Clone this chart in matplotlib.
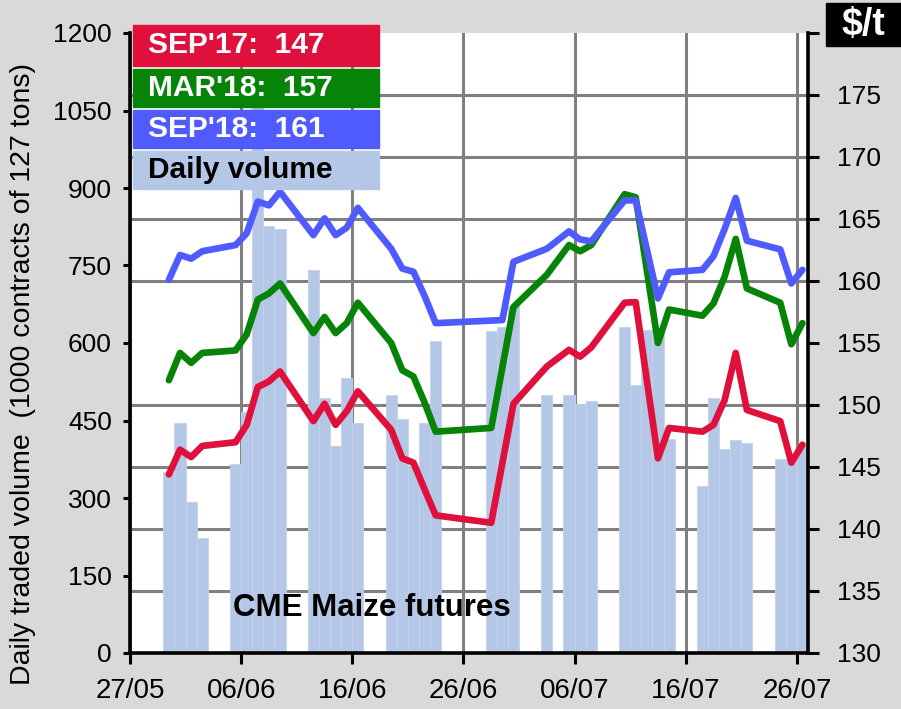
import numpy as np
import pandas as pd
import matplotlib
matplotlib.use("Agg")
import matplotlib.pyplot as plt
import matplotlib.dates as mdates
from matplotlib.patches import Rectangle

# ---------------------------------------------------------------
# data (CME maize futures, summer 2017)
# ---------------------------------------------------------------
dates = ['2017-05-30', '2017-05-31', '2017-06-01', '2017-06-02',
         '2017-06-05', '2017-06-06', '2017-06-07', '2017-06-08', '2017-06-09',
         '2017-06-12', '2017-06-13', '2017-06-14', '2017-06-15', '2017-06-16',
         '2017-06-19', '2017-06-20', '2017-06-21', '2017-06-22', '2017-06-23',
         '2017-06-28', '2017-06-29', '2017-06-30',
         '2017-07-03', '2017-07-05', '2017-07-06', '2017-07-07',
         '2017-07-10', '2017-07-11', '2017-07-12', '2017-07-13', '2017-07-14',
         '2017-07-17', '2017-07-18', '2017-07-19', '2017-07-20', '2017-07-21',
         '2017-07-24', '2017-07-25', '2017-07-26']

# daily traded volume (1000 contracts)
volume = [350, 445, 293, 222,
          365, 467, 1057, 826, 820,
          741, 493, 401, 532, 446,
          499, 453, 362, 446, 604,
          624, 631, 672,
          499, 499, 482, 488,
          630, 519, 625, 628, 414,
          323, 493, 395, 412, 407,
          375, 375, 400]

# settlement prices ($/t), None = no point on the line
sep17 = [144.4, 146.4, 145.8, 146.7,
         147.0, 148.4, 151.45, 151.9, 152.7,
         148.7, 150.1, 148.4, 149.5, 151.1,
         148.0, 145.7, 145.35, 143.2, 141.1,
         140.5, None, 150.1,
         153.1, 154.45, 153.9, 154.65,
         158.25, 158.3, None, 145.7, 148.15,
         147.85, 148.4, 150.4, 154.2, 149.6,
         148.7, 145.35, 146.8]

mar18 = [152.0, 154.2, 153.4, 154.2,
         154.4, 155.7, 158.5, 159.0, 159.8,
         155.8, 157.1, 155.8, 156.6, 158.25,
         155.0, 152.8, 152.3, 150.2, 147.85,
         148.15, None, 157.9,
         160.5, 162.9, 162.4, 162.9,
         167.0, 166.75, None, 155.0, 157.7,
         157.2, 158.2, 160.35, 163.4, 159.4,
         158.25, 154.9, 156.6]

sep18 = [160.1, 162.1, 161.8, 162.4,
         162.9, 163.85, 166.4, 166.1, 167.2,
         163.7, 165.05, 163.7, 164.3, 165.9,
         162.6, 161.0, 160.75, 158.8, 156.6,
         None, 156.85, 161.55,
         162.6, 164.0, 163.35, 163.2,
         166.5, 166.5, None, 158.6, 160.7,
         160.9, 162.0, 164.2, 166.7, 163.25,
         162.55, 159.8, 160.9]

series_names = ["SEP'17", "MAR'18", "SEP'18"]
series_values = [sep17, mar18, sep18]
series_colors = ['#e0103c', '#078407', '#4f5bff']
bar_color = '#b4c7e7'

vol_ticks = np.arange(0, 1201, 150)
price_ticks = np.arange(130, 181, 5)
date_ticks = pd.date_range('2017-05-27', periods=7, freq='10D')

# ---------------------------------------------------------------
# figure
# ---------------------------------------------------------------
W, H = 901, 709
plt.rcParams['font.family'] = ['Liberation Sans', 'DejaVu Sans']
fig = plt.figure(figsize=(W / 100, H / 100), dpi=100, facecolor='#d9d9d9')
ax = fig.add_axes([130 / W, 1 - 653 / H, (808 - 130) / W, (653 - 33) / H])
ax.set_facecolor('white')

x = pd.to_datetime(dates) + pd.Timedelta(hours=12)   # centre of each day slot

ax.bar(x, volume, width=1.0, color=bar_color, edgecolor='#c4d3ec',
       linewidth=0.6, zorder=2)
ax.set_ylim(0, 1200)
ax.set_yticks(vol_ticks)
ax.set_yticks(np.linspace(0, 1200, len(price_ticks)), minor=True)
ax.grid(which='minor', axis='y', color='#808080', lw=2.2)
ax.grid(which='major', axis='x', color='#808080', lw=2.2)
ax.set_axisbelow(True)

ax.set_xlim(pd.Timestamp('2017-05-27'), pd.Timestamp('2017-07-27'))
ax.set_xticks(date_ticks)
ax.xaxis.set_major_formatter(mdates.DateFormatter('%d/%m'))

ax.tick_params(axis='y', which='minor', length=0)
ax.tick_params(axis='y', which='major', length=5, width=2.2, labelsize=19, pad=8)
ax.tick_params(axis='x', length=8, width=2.2, labelsize=20, pad=10)

ax2 = ax.twinx()
for vals, col in zip(series_values, series_colors):
    s = pd.Series(vals, index=x, dtype=float).dropna()
    ax2.plot(s.index, s.values, color=col, lw=4.8,
             solid_joinstyle='round', solid_capstyle='round', zorder=3)
ax2.set_ylim(130, 180)
ax2.set_yticks(price_ticks)
ax2.set_yticklabels([str(p) if p < 180 else '' for p in price_ticks])
ax2.tick_params(axis='y', length=8, width=2.2, labelsize=19, pad=13)

for a in (ax, ax2):
    a.spines['top'].set_visible(False)
ax2.spines['left'].set_visible(False)
ax2.spines['bottom'].set_visible(False)
ax.spines['right'].set_visible(False)
for sp in (ax.spines['left'], ax.spines['bottom'], ax2.spines['right']):
    sp.set_color('black')
    sp.set_linewidth(2.6)

# axis captions
fig.text(23 / W, 1 - 374 / H, 'Daily traded volume  (1000 contracts of 127 tons)',
         rotation=90, ha='center', va='center', fontsize=20.5)
ax.text(0.357, 0.072, 'CME Maize futures', transform=ax.transAxes,
        ha='center', va='center', fontsize=22.5, fontweight='bold', zorder=5)

fig.add_artist(Rectangle((826 / W, 1 - 46 / H), 75 / W, 43 / H,
                         transform=fig.transFigure, color='black', zorder=5))
fig.text(863 / W, 1 - 25 / H, '$/t', ha='center', va='center', color='white',
         fontsize=27, fontweight='bold', zorder=6)

# legend blocks
boxes = [(25, 65.5), (69, 107), (110, 148), (151, 188.5)]
labels = [f"{n}:  {round(v[-1])}" for n, v in zip(series_names, series_values)]
labels.append('Daily volume')
fills = series_colors + [bar_color]
txt_cols = ['white', 'white', 'white', 'black']
for (y0, y1), lab, fc, tc in zip(boxes, labels, fills, txt_cols):
    fig.add_artist(Rectangle((133 / W, 1 - y1 / H), (379 - 133) / W, (y1 - y0) / H,
                             transform=fig.transFigure, color=fc, zorder=5))
    fig.text(148 / W, 1 - (y0 + y1) / 2 / H, lab, ha='left', va='center',
             color=tc, fontsize=21.5, fontweight='bold', zorder=6)

fig.savefig('out.png', dpi=100, facecolor=fig.get_facecolor())
